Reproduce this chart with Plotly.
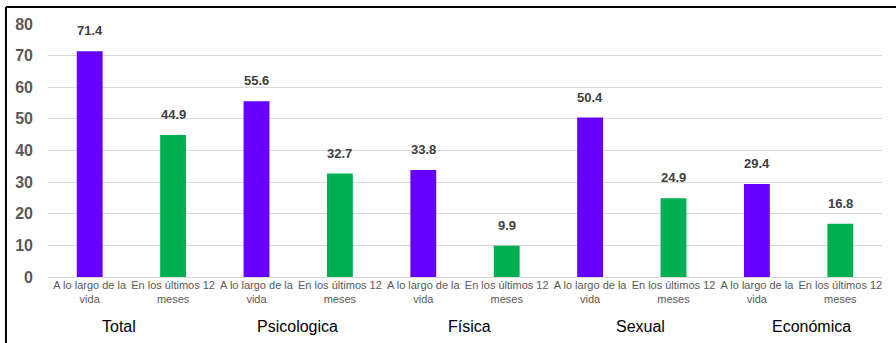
import plotly.graph_objects as go

# Prevalence of violence by type (%), lifetime vs. last 12 months
categories = [
    "A lo largo de la<br>vida", "En los últimos 12<br>meses",
    "A lo largo de la<br>vida", "En los últimos 12<br>meses",
    "A lo largo de la<br>vida", "En los últimos 12<br>meses",
    "A lo largo de la<br>vida", "En los últimos 12<br>meses",
    "A lo largo de la<br>vida", "En los últimos 12<br>meses",
]
values = [71.4, 44.9, 55.6, 32.7, 33.8, 9.9, 50.4, 24.9, 29.4, 16.8]
groups = ["Total", "Psicologica", "Física", "Sexual", "Económica"]
group_pos = [0.35, 2.49, 4.55, 6.6, 8.65]
y_ticks = [0, 10, 20, 30, 40, 50, 60, 70, 80]

PURPLE = "#6600FF"
GREEN = "#00B050"
colors = [PURPLE if i % 2 == 0 else GREEN for i in range(len(values))]
xs = list(range(len(values)))

fig = go.Figure(go.Bar(
    x=xs, y=values, marker=dict(color=colors, line=dict(width=0)),
    width=0.31, hoverinfo="skip",
))

annotations = []
for x, v in zip(xs, values):
    annotations.append(dict(
        x=x, y=v, xref="x", yref="y", text=f"{v:.1f}", showarrow=False,
        yanchor="bottom", yshift=11,
        font=dict(family="Liberation Sans, Arial", size=13, color="#404040", weight="bold"),
    ))
for name, pos in zip(groups, group_pos):
    annotations.append(dict(
        x=pos, y=-0.197, xref="x", yref="paper", text=name, showarrow=False,
        yanchor="middle",
        font=dict(family="Liberation Sans, Arial", size=16, color="#000000"),
    ))

fig.update_layout(
    width=896, height=343,
    margin=dict(l=48, r=14, t=24, b=66),
    paper_bgcolor="white", plot_bgcolor="white",
    showlegend=False,
    bargap=0.69,
    annotations=annotations,
    xaxis=dict(
        tickmode="array", tickvals=xs, ticktext=categories,
        range=[-0.5, len(values) - 0.5],
        showgrid=False, zeroline=False, showline=False, ticks="",
        tickfont=dict(family="Liberation Sans, Arial", size=11, color="#595959"),
        tickangle=0,
    ),
    yaxis=dict(
        range=[0, 80], tickvals=y_ticks,
        showgrid=True, gridcolor="#D9D9D9", gridwidth=1,
        zeroline=True, zerolinecolor="#D9D9D9", zerolinewidth=1,
        showline=False, ticks="", ticklabelstandoff=14,
        tickfont=dict(family="Liberation Sans, Arial", size=16, color="#595959", weight="bold"),
    ),
    shapes=[
        dict(type="line", xref="paper", yref="paper",
             x0=-0.0504, x1=1.03, y0=1.067, y1=1.067,
             line=dict(color="#000000", width=2)),
        dict(type="line", xref="paper", yref="paper",
             x0=-0.0504, x1=-0.0504, y0=1.067, y1=-0.3,
             line=dict(color="#000000", width=2)),
    ],
)

fig.write_html("out.html")
